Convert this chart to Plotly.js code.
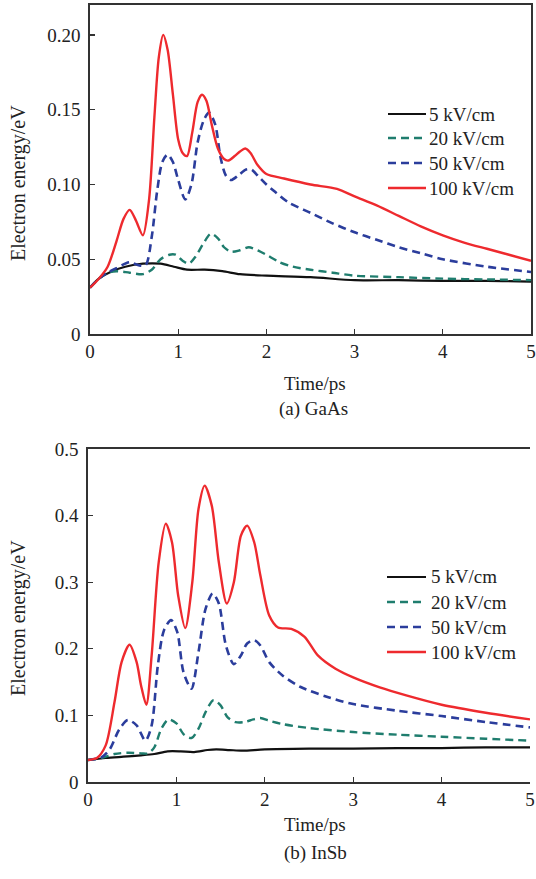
<!DOCTYPE html>
<html>
<head>
<meta charset="utf-8">
<script src="https://cdn.plot.ly/plotly-3.0.1.min.js"></script>
<style>html,body{margin:0;padding:0;background:#fff;}#chart{width:536px;height:879px;}</style>
</head>
<body>
<div id="chart"></div>
<script>
// ---- GaAs ----
var gaT5 = [0,0.1,0.25,0.4,0.6,0.8,0.95,1.1,1.3,1.5,1.7,2.0,2.5,3,3.5,4,4.5,5];
var gaE5 = [0.031,0.037,0.042,0.045,0.047,0.047,0.045,0.043,0.043,0.042,0.040,0.039,0.038,0.036,0.036,0.0355,0.0355,0.035];
var gaT20 = [0,0.1,0.2,0.3,0.45,0.6,0.7,0.8,0.9,0.97,1.05,1.12,1.2,1.28,1.37,1.45,1.52,1.6,1.7,1.8,1.9,2.0,2.15,2.3,2.5,2.75,3,3.5,4,4.5,5];
var gaE20 = [0.031,0.037,0.041,0.042,0.041,0.040,0.043,0.050,0.053,0.053,0.049,0.047,0.052,0.060,0.067,0.064,0.058,0.055,0.056,0.058,0.056,0.053,0.048,0.045,0.043,0.041,0.039,0.038,0.037,0.0365,0.036];
var gaT50 = [0,0.1,0.2,0.3,0.45,0.55,0.63,0.7,0.76,0.82,0.88,0.94,1.0,1.08,1.15,1.22,1.29,1.35,1.42,1.48,1.54,1.6,1.68,1.77,1.83,1.9,2.0,2.1,2.25,2.5,2.75,3,3.25,3.5,3.75,4,4.5,5];
var gaE50 = [0.031,0.037,0.041,0.044,0.048,0.046,0.046,0.065,0.095,0.115,0.120,0.115,0.103,0.090,0.100,0.128,0.143,0.148,0.140,0.118,0.106,0.103,0.106,0.110,0.110,0.106,0.100,0.095,0.088,0.081,0.074,0.068,0.063,0.058,0.054,0.050,0.045,0.0415];
var gaT100 = [0,0.1,0.2,0.3,0.38,0.45,0.52,0.6,0.67,0.73,0.78,0.83,0.88,0.94,1.0,1.05,1.1,1.16,1.22,1.27,1.32,1.38,1.45,1.52,1.57,1.64,1.7,1.76,1.82,1.9,2.0,2.2,2.5,2.8,3.0,3.25,3.5,3.75,4.0,4.25,4.5,4.75,5];
var gaE100 = [0.031,0.037,0.045,0.062,0.077,0.083,0.076,0.066,0.090,0.145,0.185,0.200,0.190,0.160,0.130,0.121,0.119,0.135,0.155,0.160,0.156,0.140,0.124,0.117,0.116,0.119,0.122,0.124,0.121,0.113,0.107,0.104,0.100,0.097,0.092,0.086,0.079,0.072,0.066,0.061,0.057,0.053,0.049];

// ---- InSb ----
var inT5 = [0,0.2,0.4,0.6,0.75,0.9,1.05,1.2,1.35,1.45,1.6,1.75,2.0,2.5,3,3.5,4,4.5,5];
var inE5 = [0.033,0.036,0.038,0.040,0.042,0.046,0.046,0.045,0.048,0.049,0.048,0.047,0.049,0.050,0.050,0.051,0.051,0.052,0.052];
var inT20 = [0,0.15,0.3,0.45,0.6,0.68,0.75,0.83,0.91,1.0,1.08,1.17,1.25,1.33,1.42,1.5,1.58,1.67,1.77,1.87,1.95,2.05,2.2,2.5,3,3.5,4,4.5,5];
var inE20 = [0.033,0.036,0.042,0.044,0.043,0.043,0.052,0.080,0.094,0.088,0.072,0.066,0.080,0.105,0.123,0.115,0.097,0.090,0.090,0.094,0.096,0.092,0.087,0.081,0.075,0.071,0.068,0.065,0.062];
var inT50 = [0,0.15,0.25,0.35,0.45,0.55,0.65,0.72,0.79,0.86,0.94,1.01,1.08,1.17,1.25,1.33,1.41,1.48,1.56,1.65,1.73,1.8,1.88,1.95,2.05,2.2,2.4,2.7,3,3.5,4,4.5,5];
var inE50 = [0.033,0.037,0.050,0.078,0.093,0.085,0.062,0.085,0.175,0.228,0.243,0.225,0.165,0.140,0.195,0.260,0.283,0.268,0.205,0.177,0.190,0.208,0.213,0.205,0.180,0.160,0.143,0.128,0.117,0.107,0.099,0.090,0.082];
var inT100 = [0,0.1,0.2,0.3,0.38,0.47,0.55,0.6,0.66,0.72,0.8,0.88,0.95,1.02,1.1,1.18,1.25,1.32,1.4,1.48,1.57,1.65,1.73,1.8,1.88,1.95,2.05,2.15,2.3,2.45,2.6,2.8,3.0,3.3,3.6,4.0,4.5,5];
var inE100 = [0.033,0.036,0.055,0.120,0.180,0.206,0.180,0.145,0.116,0.190,0.330,0.388,0.360,0.280,0.231,0.300,0.410,0.445,0.415,0.330,0.268,0.300,0.370,0.385,0.360,0.310,0.250,0.232,0.230,0.218,0.190,0.170,0.157,0.142,0.130,0.116,0.104,0.094];

var seriesNames = ['5 kV/cm','20 kV/cm','50 kV/cm','100 kV/cm'];
var xTickVals = [0,1,2,3,4,5];
var xTickText = ['0','1','2','3','4','5'];
var yTickValsA = [0,0.05,0.10,0.15,0.20];
var yTickTextA = ['0','0.05','0.10','0.15','0.20'];
var yTickValsB = [0,0.1,0.2,0.3,0.4,0.5];
var yTickTextB = ['0','0.1','0.2','0.3','0.4','0.5'];

var colors = ['#111111','#1f7d6e','#2b3d9c','#ee2a2e'];
var dashes = ['solid','8px,5px','8px,5px','solid'];
var widths = [2.2,2.4,2.6,2.4];

var FONT = 'Liberation Serif, Times New Roman, serif';
var TXT = '#222';

function mk(t,e,i,xa,ya){
  return {x:t,y:e,type:'scatter',mode:'lines',name:seriesNames[i],
    xaxis:xa,yaxis:ya,showlegend:false,
    line:{color:colors[i],width:widths[i],dash:dashes[i],shape:'spline',smoothing:0.8}};
}

var traces = [
  mk(gaT5,gaE5,0,'x','y'),
  mk(gaT20,gaE20,1,'x','y'),
  mk(gaT50,gaE50,2,'x','y'),
  mk(gaT100,gaE100,3,'x','y'),
  mk(inT5,inE5,0,'x2','y2'),
  mk(inT20,inE20,1,'x2','y2'),
  mk(inT50,inE50,2,'x2','y2'),
  mk(inT100,inE100,3,'x2','y2')
];

var H = 879, W = 536;
function py(p){ return (H-p)/H; }
function px(p){ return p/W; }

var axBase = {showgrid:false,zeroline:false,showline:true,linecolor:'#333',linewidth:1.6,
  ticks:'inside',ticklen:5,tickwidth:1.3,tickcolor:'#333',ticklabeloverflow:'allow',
  tickfont:{family:FONT,size:19,color:TXT},fixedrange:true};

function ax(o){ var r = {}; for (var k in axBase) r[k]=axBase[k]; for (var k2 in o) r[k2]=o[k2]; return r; }

var shapes = [];
var annotations = [
  {text:'Time/ps',xref:'paper',yref:'paper',x:px(315),y:py(383),showarrow:false,xanchor:'center',yanchor:'middle',font:{family:FONT,size:19,color:TXT}},
  {text:'(a) GaAs',xref:'paper',yref:'paper',x:px(313),y:py(409),showarrow:false,xanchor:'center',yanchor:'middle',font:{family:FONT,size:19,color:TXT}},
  {text:'Time/ps',xref:'paper',yref:'paper',x:px(315),y:py(824),showarrow:false,xanchor:'center',yanchor:'middle',font:{family:FONT,size:19,color:TXT}},
  {text:'(b) InSb',xref:'paper',yref:'paper',x:px(315),y:py(853),showarrow:false,xanchor:'center',yanchor:'middle',font:{family:FONT,size:19,color:TXT}},
  {text:'Electron energy/eV',xref:'paper',yref:'paper',x:px(18),y:py(183),showarrow:false,textangle:-90,xanchor:'center',yanchor:'middle',font:{family:FONT,size:20,color:TXT}},
  {text:'Electron energy/eV',xref:'paper',yref:'paper',x:px(18),y:py(618),showarrow:false,textangle:-90,xanchor:'center',yanchor:'middle',font:{family:FONT,size:20,color:TXT}}
];

// manual legends (one per panel)
var legendRowsA = [114,138,163,188];
var legendRowsB = [577,602,627,652];
function addLegend(rows, x0, x1, xt){
  for (var i=0;i<4;i++){
    shapes.push({type:'line',xref:'paper',yref:'paper',x0:px(x0),x1:px(x1),y0:py(rows[i]),y1:py(rows[i]),
      line:{color:colors[i],width:widths[i],dash:dashes[i]}});
    annotations.push({text:seriesNames[i],xref:'paper',yref:'paper',x:px(xt),y:py(rows[i]),showarrow:false,
      xanchor:'left',yanchor:'middle',font:{family:FONT,size:19,color:TXT}});
  }
}
addLegend(legendRowsA, 388, 426, 427);
addLegend(legendRowsB, 387, 426, 429);

var layout = {
  width:W,height:H,margin:{l:0,r:0,t:0,b:0},
  paper_bgcolor:'#fff',plot_bgcolor:'#fff',
  showlegend:false,
  xaxis: ax({domain:[px(90),px(531)],range:[0,5],tickvals:xTickVals,ticktext:xTickText,anchor:'y',mirror:true}),
  yaxis: ax({domain:[py(334),py(5)],range:[0,0.22],tickvals:yTickValsA,ticktext:yTickTextA,anchor:'x',mirror:true,ticklabelstandoff:4}),
  xaxis2: ax({domain:[px(88),px(530)],range:[0,5],tickvals:xTickVals,ticktext:xTickText,anchor:'y2',mirror:true}),
  yaxis2: ax({domain:[py(782),py(449)],range:[0,0.5],tickvals:yTickValsB,ticktext:yTickTextB,anchor:'x2',ticklabelstandoff:4}),
  shapes:shapes,
  annotations:annotations
};

Plotly.newPlot('chart',traces,layout,{staticPlot:true,displayModeBar:false});
</script>
</body>
</html>
